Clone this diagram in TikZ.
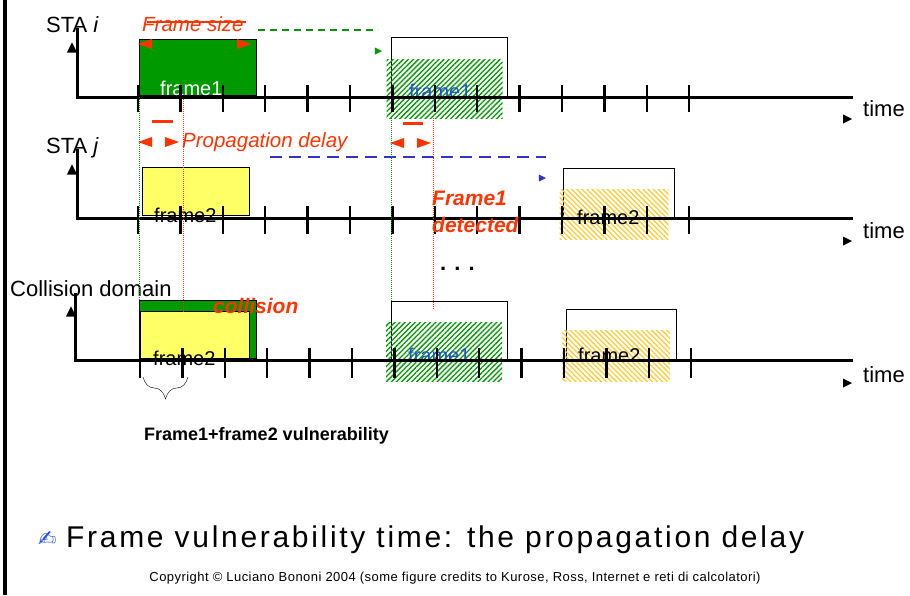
\documentclass[tikz,border=0pt]{standalone}
\usepackage{fontspec}
\setmainfont{Liberation Sans}
\newfontfamily\symfont{DejaVu Sans}
\newfontfamily\spacedfont[LetterSpace=9]{Liberation Sans}
\newfontfamily\smallfont[LetterSpace=3.5]{Liberation Sans}
\usetikzlibrary{positioning,patterns.meta,decorations.pathreplacing}
\definecolor{fgreen}{HTML}{009900}
\definecolor{fred}{HTML}{FF3300}
\definecolor{fblue}{HTML}{3333CC}
\definecolor{lblue}{HTML}{1F4FD8}
\definecolor{fyellow}{HTML}{FFFF66}
\definecolor{fgold}{HTML}{FFCC33}
\newcommand{\fsz}[1]{\fontsize{#1}{#1}\selectfont}

\begin{document}
\begin{tikzpicture}[x=1pt,y=-1pt,
  axis/.style={line width=3pt},
  tickmark/.style={line width=2.5pt},
  frm/.style={draw,line width=1.2pt,inner sep=0pt,anchor=south west},
  ghatch/.style={inner sep=0pt,anchor=north west,pattern={Lines[angle=45,distance=3.6pt,line width=1.3pt]},pattern color=fgreen},
  yhatch/.style={inner sep=0pt,anchor=north west,pattern={Lines[angle=-45,distance=3.6pt,line width=1.3pt]},pattern color=fgold},
  txt/.style={inner sep=0pt,anchor=base west,font=\fsz{20}},
  rowlbl/.style={txt,font=\fsz{22}},
  redtxt/.style={txt,text=fred,font=\fsz{20.5}\itshape},
  boldred/.style={txt,text=fred,font=\fsz{21}\bfseries\itshape},
  vline/.style={densely dotted,line width=1pt},
  head/.pic={\fill (-4,-4.5) -- (5,0) -- (-4,4.5) -- cycle;},
  redhead/.pic={\fill (-7,-5) -- (7,0) -- (-7,5) -- cycle;}]

\useasboundingbox (0,0) rectangle (910,595);
\draw[line width=4pt] (5,0) -- (5,595);

% STA i
\node[frm,fill=fgreen,minimum width=117pt,minimum height=56pt] (f1) at (139,96) {};
\node[frm,fill=white,minimum width=116pt,minimum height=59pt] (o1) at (391,97) {};
\node[ghatch,minimum width=116pt,minimum height=59pt] (h1) at (386,59) {};
\node[txt,white] (l1) at (160,95) {frame1};
\node[txt,lblue] (l2) at (409,98) {frame1};
\coordinate (top-i) at (77,28);
\coordinate (end-i) at (853,97);
\draw[axis] (top-i) |- (end-i);
\pic[rotate=90,scale=1.15] at (72,48) {head};
\foreach \k in {0,...,13}
  \draw[tickmark] (138+42.4*\k,85) -- ++(0,27);
\node[rowlbl] (sta-i) at (46,32) {STA \textit{i}};
\node[rowlbl] (time-i) at (863,116) {time};
\pic at (847,119) {head};

\node[redtxt] (fsize) at (142,31) {Frame size};
\coordinate (fs-l) at (147,22);
\coordinate (fs-r) at (246,22);
\draw[fred,line width=1.5pt] (fs-l) -- (fs-r);
\pic[fred,rotate=180] at (145,44) {redhead};
\pic[fred] at (244,44) {redhead};
\coordinate (gd-l) at (258,30);
\coordinate (gd-r) at (378,30);
\draw[fgreen,line width=1.2pt,dash pattern=on 7pt off 5pt] (gd-l) -- (gd-r);
\pic[fgreen,scale=.8] at (378,51) {head};

% propagation delay
\draw[fred,line width=3pt] (152,121) -- (173,121);
\draw[fred,line width=3pt] (403,123) -- (423,123);
\pic[fred,rotate=180] at (145,142) {redhead};
\pic[fred] at (172,142) {redhead};
\pic[fred,rotate=180] at (397,143) {redhead};
\pic[fred] at (424,143) {redhead};
\node[redtxt] (pdelay) at (182,147) {Propagation delay};

% STA j
\node[frm,fill=fyellow,minimum width=107pt,minimum height=48pt] (f2) at (142,216) {};
\node[frm,fill=white,minimum width=111pt,minimum height=49pt] (o2) at (563,218) {};
\node[yhatch,minimum width=109pt,minimum height=50pt] (h2) at (559,189) {};
\node[txt] (l3) at (154,222) {frame2};
\node[txt] (l4) at (577,224) {frame2};
\coordinate (top-j) at (77,149);
\coordinate (end-j) at (853,218);
\draw[axis] (top-j) |- (end-j);
\pic[rotate=90,scale=1.15] at (72,170) {head};
\foreach \k in {0,...,13}
  \draw[tickmark] (138+42.4*\k,206) -- ++(0,28);
\node[rowlbl] (sta-j) at (46,153) {STA \textit{j}};
\node[rowlbl] (time-j) at (863,238) {time};
\pic at (847,241) {head};
\coordinate (bd-l) at (270,157);
\coordinate (bd-r) at (546,157);
\draw[fblue,line width=2.5pt,dash pattern=on 12pt off 7pt] (bd-l) -- (bd-r);
\pic[fblue,scale=.8] at (542,178) {head};
\node[boldred] (det1) at (432,205) {Frame1};
\node[boldred] (det2) at (432,232) {detected};
\node[txt,font=\fsz{22}\bfseries] (dots) at (440,270) {. . .};

% collision domain
\node[frm,fill=fgreen,minimum width=117pt,minimum height=58pt] (f3) at (139,359) {};
\node[frm,fill=fyellow,minimum width=109pt,minimum height=47pt] (f4) at (140,359) {};
\node[frm,fill=white,minimum width=116pt,minimum height=58pt] (o3) at (391,360) {};
\node[ghatch,minimum width=116pt,minimum height=59pt] (h3) at (386,322) {};
\node[frm,fill=white,minimum width=110pt,minimum height=50pt] (o4) at (566,360) {};
\node[yhatch,minimum width=108pt,minimum height=51pt] (h4) at (562,330) {};
\node[txt] (l5) at (153,365) {frame2};
\node[txt,lblue] (l6) at (408,362) {frame1};
\node[txt] (l7) at (578,362) {frame2};
\node[boldred] (coll) at (213,313) {collision};
\coordinate (top-c) at (75,293);
\coordinate (end-c) at (853,360);
\draw[axis] (top-c) |- (end-c);
\pic[rotate=90,scale=1.15] at (71,312) {head};
\foreach \k in {0,...,13}
  \draw[tickmark] (140+42.4*\k,348) -- ++(0,30);
\node[rowlbl] (coll-dom) at (10,296) {Collision domain};
\node[rowlbl] (time-c) at (863,382) {time};
\pic at (847,383) {head};

% dotted guides
\draw[vline,fgreen] (139,97) -- (f3.north west);
\draw[vline,fred] (183,99) -- (183,312);
\draw[vline,fgreen] (391,118) -- (o3.north west);
\draw[vline,fred] (433,118) -- (433,309);

% vulnerability
\coordinate (br-l) at (143,377);
\coordinate (br-r) at (188,377);
\draw[decorate,decoration={brace,amplitude=22pt,mirror}] (br-l) -- (br-r);
\node[txt,font=\fsz{18}\bfseries] (vuln) at (144,440) {Frame1+frame2 vulnerability};

\node[txt,font=\symfont\fsz{22},lblue] (pen) at (38,546) {✍};
\node[txt,font=\spacedfont\fsz{30}] (msg) at (66,547) {Frame vulnerability time: the propagation delay};
\node[inner sep=0pt,anchor=base,font=\smallfont\fsz{13}] (copy) at (455,581) {Copyright © Luciano Bononi 2004 (some figure credits to Kurose, Ross, Internet e reti di calcolatori)};
\end{tikzpicture}
\end{document}
